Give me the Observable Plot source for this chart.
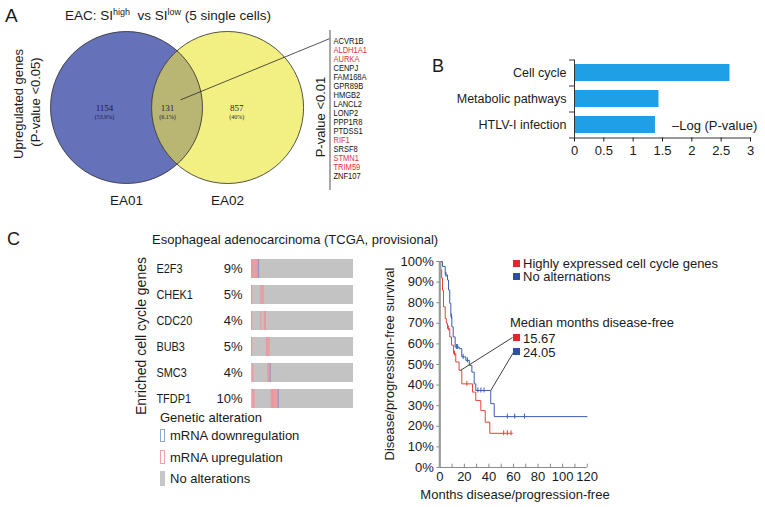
<!DOCTYPE html>
<html><head><meta charset="utf-8">
<script src="https://cdn.jsdelivr.net/npm/d3@7"></script>
<script src="https://cdn.jsdelivr.net/npm/@observablehq/plot@0.6"></script>
<style>
body{margin:0;background:#fff;}
#root{position:relative;width:765px;height:507px;overflow:hidden;background:#fff;font-family:"Liberation Sans",Arial,sans-serif;color:#1a1a1a;}
.abs{position:absolute;white-space:nowrap;line-height:1;}
.sq{position:absolute;}
</style></head><body><div id="root"></div>
<script>
// ---------------- DATA ----------------
const vennSets = ["EA01", "EA02"];
const vennCounts = [1154, 131, 857];
const vennPercents = ["53.9%", "6.1%", "40%"];
const overlapGenes = ["ACVR1B","ALDH1A1","AURKA","CENPJ","FAM168A","GPR89B","HMGB2","LANCL2","LONP2","PPP1R8","PTDSS1","RIF1","SRSF8","STMN1","TRIM59","ZNF107"];
const highlightedGenes = ["ALDH1A1","AURKA","RIF1","STMN1","TRIM59"];

const pathways = ["Cell cycle", "Metabolic pathways", "HTLV-I infection"];
const pathwayLogP = [2.65, 1.44, 1.38];
const pathwayTicks = [0, 0.5, 1, 1.5, 2, 2.5, 3];

const cycleGenes = ["E2F3", "CHEK1", "CDC20", "BUB3", "SMC3", "TFDP1"];
const alteredPct = ["9%", "5%", "4%", "5%", "4%", "10%"];
const nSamples = 88;
const upSamples = [[0,1,2,3,4,5], [0,8,9,10], [0,8,11,12], [0,13,14,15], [1,14,15], [1,2,17,18,19,20,21,22]];
const downSamples = [[6], [], [], [], [16], [23]];

const kmHighTime = [0, 0.8, 1.5, 2.2, 3.0, 4.4, 5.3, 6.3, 8.1, 9.5, 11.2, 13.0, 15.67, 17.9, 26.6, 29.3, 33.4, 37.0, 40.7, 59.2];
const kmHighSurv = [1, 0.96, 0.92, 0.86, 0.78, 0.723, 0.70, 0.675, 0.634, 0.594, 0.553, 0.512, 0.472, 0.406, 0.366, 0.325, 0.276, 0.22, 0.166, 0.166];
const kmNoAltTime = [0, 2.2, 4.4, 6.3, 7.1, 8.1, 9.0, 9.8, 10.9, 12.5, 15.8, 17.9, 21.2, 24.05, 26.1, 28.0, 29.3, 41.5, 44.3, 120];
const kmNoAltSurv = [1, 0.976, 0.935, 0.91, 0.862, 0.797, 0.732, 0.683, 0.634, 0.585, 0.577, 0.537, 0.52, 0.496, 0.463, 0.406, 0.374, 0.31, 0.247, 0.247];
const censorHighTime = [7, 12, 22, 52, 55, 58];
const censorNoAltTime = [5, 9.5, 13.5, 14.5, 19, 22.5, 31, 33.5, 36, 55, 61, 69];
const kmYTicks = [0, 0.1, 0.2, 0.3, 0.4, 0.5, 0.6, 0.7, 0.8, 0.9, 1];
const kmXTicks = [0, 20, 40, 60, 80, 100, 120];
const kmGroups = ["Highly expressed cell cycle genes", "No alternations"];
const medianMonths = ["15.67", "24.05"];

// ---------------- HELPERS ----------------
const RED = "#e2262b", BLUE = "#2f4fa3";
const root = document.getElementById("root");
const FONT = "'Liberation Sans', Arial, sans-serif";
const baseStyle = `background:transparent;overflow:visible;max-width:none;font-family:${FONT};font-size:13px;color:#1a1a1a;`;
function place(node, left, top) {
  const d = document.createElement("div");
  d.style.cssText = `position:absolute;left:${left}px;top:${top}px;`;
  d.appendChild(node); root.appendChild(d); return d;
}
function txt(html, x, y, o = {}) {
  const d = document.createElement("div");
  d.className = "abs";
  d.innerHTML = html;
  d.style.left = x + "px"; d.style.top = y + "px";
  d.style.fontSize = (o.size || 13) + "px";
  if (o.color) d.style.color = o.color;
  if (o.family) d.style.fontFamily = o.family;
  let tf = "translateY(-50%)";
  if (o.anchor === "middle") tf = "translate(-50%,-50%)";
  if (o.vertical) tf = "translate(-50%,-50%) rotate(-90deg)";
  d.style.transform = tf;
  root.appendChild(d);
  return d;
}
function sq(x, y, w, h, css) {
  const d = document.createElement("div");
  d.className = "sq";
  d.style.cssText = `position:absolute;left:${x}px;top:${y}px;width:${w}px;height:${h}px;box-sizing:border-box;${css}`;
  root.appendChild(d);
}
function condense(svg, x0, k) {
  d3.select(svg).selectAll('g[aria-label="text"]').each(function (d, i) {
    if (k[i] == null) return;
    const g = d3.select(this);
    const old = g.attr("transform") || "";
    g.attr("transform", `translate(${x0[i]},0) scale(${k[i]},1) translate(${-x0[i]},0) ${old}`);
  });
}

// ---------------- PANEL A ----------------
txt("A", 5, 15, {size: 19});
txt("EAC: SI<sup style='font-size:9px'>high</sup>&nbsp; vs SI<sup style='font-size:9px'>low</sup> (5 single cells)", 65, 15, {size: 13.5});
txt("Upregulated genes", 18, 104, {vertical: true, size: 13});
txt("(P-value &lt;0.05)", 35, 102, {vertical: true, size: 13});
txt("P-value &lt;0.01", 320, 117, {vertical: true, size: 13});

const sep = 1.33;
const circles = vennSets.map((s, i) => ({set: s, cx: i * sep, cy: 0}));
const regionX = [-0.29, 0.54, 1.45];
const regions = vennCounts.map((c, i) => ({x: regionX[i], y: 0, count: String(c), pct: `(${vennPercents[i]})`}));
const pointer = [{x1: 0.71, y1: 0.10, x2: 2.67, y2: 0.905}];
const vennPlot = Plot.plot({
  width: 335, height: 210, margin: 0,
  x: {domain: [-1.658, 2.75], axis: null},
  y: {domain: [-1.355, 1.408], axis: null},
  color: {type: "identity"},
  style: baseStyle,
  marks: [
    Plot.dot(circles, {x: "cx", y: "cy", r: 76, fill: (d, i) => i === 0 ? "#6571b9" : "#f3f083"}),
    Plot.dot([circles[0]], {x: "cx", y: "cy", r: 76, fill: "#b9b572"}),
    Plot.dot(circles, {x: "cx", y: "cy", r: 76, fill: "none", stroke: "#2a2a2a", strokeWidth: 0.8}),
    Plot.text(regions, {x: "x", y: "y", text: "count", dy: 1, fontSize: 9, fontFamily: "'Liberation Serif', serif", fill: "#1c1c40"}),
    Plot.text(regions, {x: "x", y: "y", text: "pct", dy: 9.7, fontSize: 6, fontFamily: "'Liberation Serif', serif", fill: "#1c1c40"}),
    Plot.text(circles, {x: "cx", y: () => -1, text: "set", dy: 17, fontSize: 13.5, fill: "#1a1a1a"}),
    Plot.link(pointer, {x1: "x1", y1: "y1", x2: "x2", y2: "y2", stroke: "#2a2a2a", strokeWidth: 0.8})
  ]
});
{
  const xs = vennPlot.scale("x"), ys = vennPlot.scale("y");
  const vs = d3.select(vennPlot);
  vs.insert("defs", ":first-child").append("clipPath").attr("id", "lensClip")
    .append("circle").attr("cx", xs.apply(sep)).attr("cy", ys.apply(0)).attr("r", 76);
  vs.selectAll('g[aria-label="dot"]').filter((d, i) => i === 1).attr("clip-path", "url(#lensClip)");
}
place(vennPlot, 0, 0);

const genePlot = Plot.plot({
  width: 80, height: 170, marginLeft: 14.5, marginRight: 0, marginTop: 5, marginBottom: 5,
  x: {domain: [0, 1], axis: null},
  y: {type: "point", domain: overlapGenes, range: [7.3, 160.7], axis: null},
  color: {type: "identity"},
  style: baseStyle,
  marks: [
    Plot.ruleX([0], {stroke: "#2a2a2a", strokeWidth: 0.8}),
    Plot.text(overlapGenes, {y: d => d, text: d => d, frameAnchor: "left", textAnchor: "start", dx: 3.5, fontSize: 8.8,
      fill: d => highlightedGenes.includes(d) ? "#e0323c" : "#111"})
  ]
});
condense(genePlot, [18], [0.86]);
place(genePlot, 315, 25);

// ---------------- PANEL B ----------------
txt("B", 432, 66, {size: 18});
const pathwayData = pathways.map((p, i) => ({pathway: p, logp: pathwayLogP[i]}));
const bStep = 26;
const barPlot = Plot.plot({
  width: 365, height: 125, marginLeft: 174, marginRight: 15, marginTop: 19.5, marginBottom: 27.5,
  x: {domain: [0, 3]},
  y: {domain: pathways, paddingInner: 0.36, paddingOuter: 0.18},
  style: baseStyle,
  marks: [
    Plot.barX(pathwayData, {x: "logp", y: "pathway", fill: "#1f9fe6"}),
    Plot.ruleX([0], {stroke: "#333"}),
    Plot.frame({anchor: "bottom", stroke: "#333"}),
    Plot.ruleY(pathways, {y: d => d, x1: -0.085, x2: 0, dy: -bStep / 2, stroke: "#333"}),
    Plot.ruleY([pathways[pathways.length - 1]], {y: d => d, x1: -0.085, x2: 0, dy: bStep / 2, stroke: "#333"}),
    Plot.axisY({tickSize: 0, tickPadding: 8, fontSize: 12.5, label: null}),
    Plot.axisX({ticks: pathwayTicks, tickSize: 4, tickPadding: 3.5, fontSize: 13, label: null, tickFormat: d => String(d)})
  ]
});
place(barPlot, 400, 40);
txt("\u2013Log (P-value)", 672, 125, {size: 13});

// ---------------- PANEL C : oncoprint ----------------
txt("C", 7, 239, {size: 18});
txt("Esophageal adenocarcinoma (TCGA, provisional)", 152, 239, {size: 13});
txt("Enriched cell cycle genes", 141, 336, {vertical: true, size: 14});

const alterations = [];
cycleGenes.forEach((g, i) => {
  upSamples[i].forEach(s => alterations.push({gene: g, sample: s, type: "up"}));
  downSamples[i].forEach(s => alterations.push({gene: g, sample: s, type: "down"}));
});
const oncoPlot = Plot.plot({
  width: 210, height: 162, marginLeft: 101, marginRight: 7, marginTop: 8, marginBottom: 2.5,
  x: {domain: [0, nSamples], axis: null},
  y: {domain: cycleGenes, range: [8, 159.5], paddingInner: 0.283, paddingOuter: 0, axis: null},
  color: {type: "identity"},
  style: baseStyle,
  marks: [
    Plot.barX(cycleGenes, {x1: 0, x2: nSamples, y: d => d, fill: "#c3c3c3"}),
    Plot.barX(alterations, {x1: "sample", x2: d => d.sample + 1, y: "gene", fill: d => d.type === "up" ? "#f0959c" : "#9494c6"}),
    Plot.text(cycleGenes, {y: d => d, text: d => d, frameAnchor: "left", textAnchor: "start", dx: -95, fontSize: 13, fill: "#1a1a1a"}),
    Plot.text(cycleGenes, {y: d => d, text: (d, i) => alteredPct[i], frameAnchor: "left", textAnchor: "end", dx: -9, fontSize: 13, fill: "#1a1a1a"})
  ]
});
condense(oncoPlot, [6, null], [0.84, null]);
place(oncoPlot, 150, 250);

txt("Genetic alteration", 160, 417, {size: 13});
sq(160, 429, 5, 13, "border:1px solid #8ea6d2;background:#fff;");
txt("mRNA downregulation", 170, 435, {size: 13});
sq(160, 450, 5, 14, "border:1px solid #f0a2a8;background:#fff;");
txt("mRNA upregulation", 170, 456.5, {size: 13});
sq(160, 471, 5, 15, "background:#c6c6c6;");
txt("No alterations", 170, 478, {size: 13});

// ---------------- PANEL C : Kaplan-Meier ----------------
function survAt(times, survs, t) {
  let s = survs[0];
  for (let i = 0; i < times.length; i++) if (times[i] <= t) s = survs[i];
  return s;
}
const kmRows = [
  ...kmHighTime.map((t, i) => ({t, s: kmHighSurv[i], g: kmGroups[0]})),
  ...kmNoAltTime.map((t, i) => ({t, s: kmNoAltSurv[i], g: kmGroups[1]}))
];
const censorRows = [
  ...censorHighTime.map(t => ({t, s: survAt(kmHighTime, kmHighSurv, t), g: kmGroups[0]})),
  ...censorNoAltTime.map(t => ({t, s: survAt(kmNoAltTime, kmNoAltSurv, t), g: kmGroups[1]}))
];
const groupColor = g => g === kmGroups[0] ? "#e8423c" : "#3a5db0";
const medianLinks = [
  {x1: 17.0, y1: 0.472, x2: 59.2, y2: 0.631},
  {x1: 41.5, y1: 0.374, x2: 60.4, y2: 0.563}
];
const kmPlot = Plot.plot({
  width: 230, height: 250, marginLeft: 69.3, marginRight: 13.3, marginTop: 11, marginBottom: 33,
  x: {domain: [0, 120]},
  y: {domain: [0, 1]},
  color: {type: "identity"},
  style: baseStyle,
  marks: [
    Plot.ruleY([0], {stroke: "#8a8a8a"}),
    Plot.ruleX(d3.range(10, 121, 10), {x: d => d, y1: 0, y2: 0.016, stroke: "#8a8a8a"}),
    Plot.line(kmRows, {x: "t", y: "s", z: "g", stroke: d => groupColor(d.g), curve: "step-after", strokeWidth: 1}),
    Plot.ruleX(censorRows, {x: "t", y1: d => d.s - 0.012, y2: d => d.s + 0.012, stroke: d => groupColor(d.g), strokeWidth: 1}),
    Plot.link(medianLinks, {x1: "x1", y1: "y1", x2: "x2", y2: "y2", stroke: "#2a2a2a", strokeWidth: 0.9}),
    Plot.ruleX([0], {stroke: "#9a9a9a", strokeWidth: 2.2}),
    Plot.axisY({ticks: kmYTicks, tickFormat: d => Math.round(d * 100) + "%", tickSize: 3, tickPadding: 3, fontSize: 13, label: null, stroke: "#8a8a8a"}),
    Plot.axisX({ticks: kmXTicks, tickSize: 0, tickPadding: 4, fontSize: 13, label: null})
  ]
});
place(kmPlot, 370, 250);
txt("Disease/progression-free survival", 389, 364, {vertical: true, size: 13});
txt("Months disease/progression-free", 515, 494, {anchor: "middle", size: 13});

sq(513, 260, 7, 7, `background:${RED};`);
txt(kmGroups[0], 523, 262.5, {size: 13});
sq(513, 272.5, 7, 7, `background:${BLUE};`);
txt(kmGroups[1], 523, 276, {size: 13});
txt("Median months disease-free", 510, 322, {size: 13});
sq(513, 334, 7, 7, `background:${RED};`);
txt(medianMonths[0], 523, 337.5, {size: 13});
sq(513, 348, 7, 7, `background:${BLUE};`);
txt(medianMonths[1], 523, 351.5, {size: 13});
</script></body></html>
